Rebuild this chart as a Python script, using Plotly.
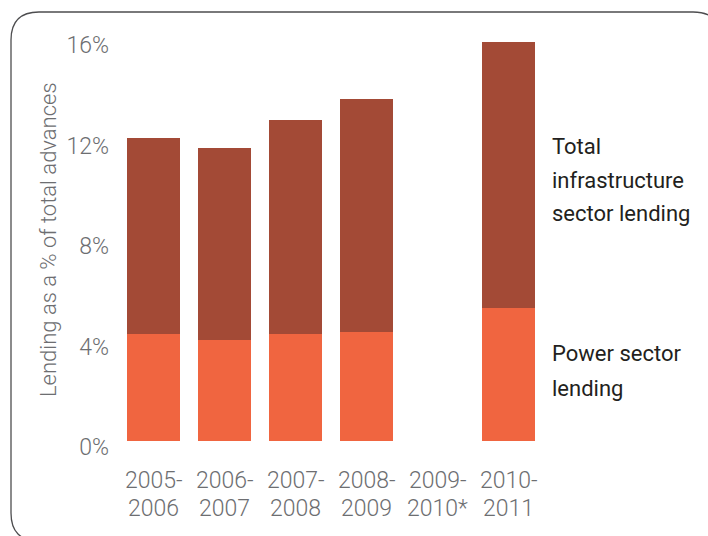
import plotly.graph_objects as go

# ---- data ----
categories = ["2005-2006", "2006-2007", "2007-2008", "2008-2009", "2009-2010*", "2010-2011"]
label_line1 = ["2005-", "2006-", "2007-", "2008-", "2009-", "2010-"]
label_line2 = ["2006", "2007", "2008", "2009", "2010*", "2011"]
total_infra = [12.05, 11.66, 12.76, 13.63, None, 15.87]
power = [4.26, 4.02, 4.26, 4.34, None, 5.29]
rest = [t - p if t is not None else None for t, p in zip(total_infra, power)]
y_ticks = [0, 4, 8, 12, 16]
y_tick_labels = ["0%", "4%", "8%", "12%", "16%"]
infra_label_lines = ["Total", "infrastructure", "sector lending"]
power_label_lines = ["Power sector", "lending"]

W, H = 708, 536
ML, MR, MT, MB = 118, 164, 39, 95
PW, PH = W - ML - MR, H - MT - MB

BROWN = "#A34A36"
ORANGE = "#F06540"
GREY = "#6d6e71"
DARK = "#231f20"
FONT = "Roboto, Liberation Sans, sans-serif"
light = dict(family=FONT, size=23, color=GREY, weight=300)
dark = dict(family=FONT, size=22, color=DARK, weight=400)

fig = go.Figure()
fig.add_trace(go.Bar(x=categories, y=power, marker=dict(color=ORANGE, line=dict(width=0)),
                     name="Power sector lending"))
fig.add_trace(go.Bar(x=categories, y=rest, marker=dict(color=BROWN, line=dict(width=0)),
                     name="Total infrastructure sector lending"))


def px_x(px):
    return (px - ML) / PW


def px_y(py):
    return (H - MB - py) / PH


annotations = []
for c, l1, l2 in zip(categories, label_line1, label_line2):
    annotations.append(dict(x=c, y=0, xref="x", yref="y", text=l1, showarrow=False,
                            yanchor="middle", yshift=-39, font=light))
    annotations.append(dict(x=c, y=0, xref="x", yref="y", text=l2, showarrow=False,
                            yanchor="middle", yshift=-67, font=light))

annotations.append(dict(x=px_x(48), y=0.5, xref="paper", yref="paper",
                        text="Lending as a % of total advances", textangle=-90,
                        showarrow=False, xanchor="center", yanchor="middle",
                        font=dict(light, size=22)))

for txt, cy in zip(infra_label_lines, [146, 181, 214]):
    annotations.append(dict(x=px_x(550), y=px_y(cy), xref="paper", yref="paper",
                            text=txt, showarrow=False, xanchor="left", yanchor="middle",
                            font=dark))
for txt, cy in zip(power_label_lines, [353, 388]):
    annotations.append(dict(x=px_x(550), y=px_y(cy), xref="paper", yref="paper",
                            text=txt, showarrow=False, xanchor="left", yanchor="middle",
                            font=dark))

# rounded frame
L, T, R, B, rad = 11, 12, 721, 541, 28
pts = [
    ("M", L, T + rad), ("Q", L, T, L + rad, T), ("L", R - rad, T), ("Q", R, T, R, T + rad),
    ("L", R, B - rad), ("Q", R, B, R - rad, B), ("L", L + rad, B), ("Q", L, B, L, B - rad), ("Z",)
]
path = ""
for p in pts:
    if p[0] == "Z":
        path += " Z"
    elif p[0] == "Q":
        path += f" Q {px_x(p[1]):.5f},{px_y(p[2]):.5f} {px_x(p[3]):.5f},{px_y(p[4]):.5f}"
    else:
        path += f" {p[0]} {px_x(p[1]):.5f},{px_y(p[2]):.5f}"

fig.update_layout(
    width=W, height=H,
    margin=dict(l=ML, r=MR, t=MT, b=MB, pad=0),
    barmode="stack", bargap=0.24,
    showlegend=False,
    plot_bgcolor="white", paper_bgcolor="white",
    annotations=annotations,
    shapes=[dict(type="path", path=path.strip(), xref="paper", yref="paper",
                 line=dict(color="#4d4d4f", width=1.3), fillcolor="rgba(0,0,0,0)", layer="below")],
    xaxis=dict(showticklabels=False, showgrid=False, zeroline=False, showline=False, ticks=""),
    yaxis=dict(range=[0, 16], tickvals=y_ticks, ticktext=y_tick_labels, showgrid=False,
               zeroline=False, showline=False, ticks="", ticklabelshift=6, ticklabelstandoff=8,
               tickfont=light),
)

fig.write_html("out.html", config={"displayModeBar": False},
               post_script="document.body.style.margin='0';document.body.style.overflow='hidden';")
